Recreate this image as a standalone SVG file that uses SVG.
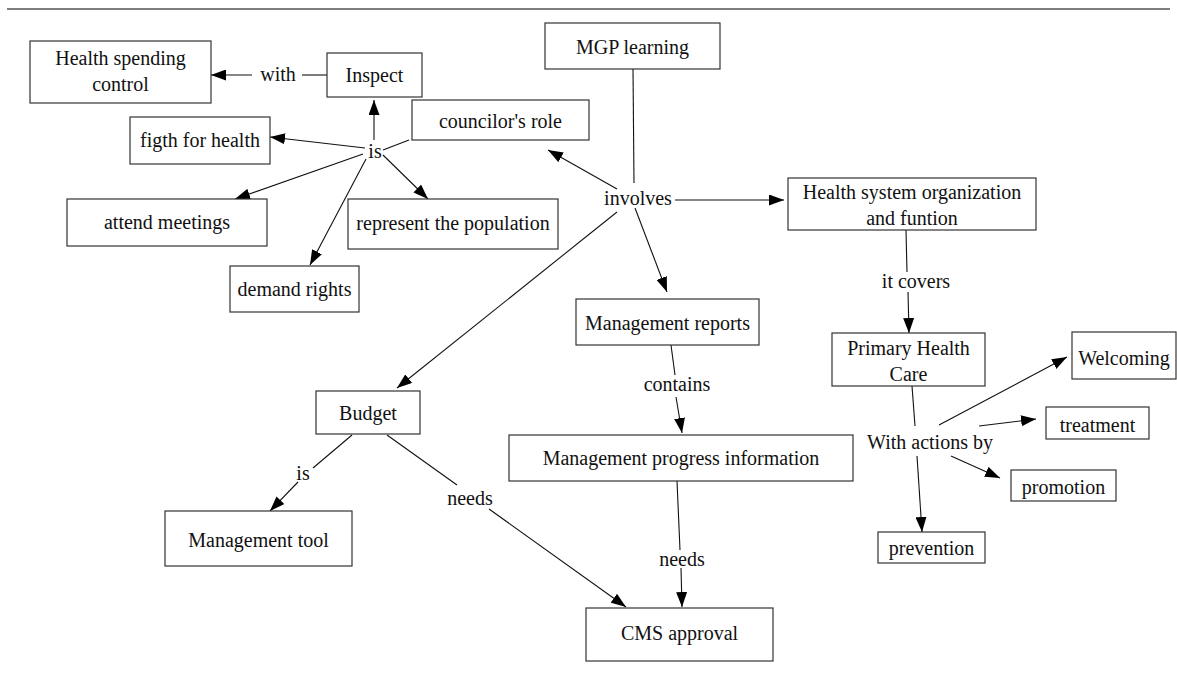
<svg xmlns="http://www.w3.org/2000/svg" width="1177" height="679" viewBox="0 0 1177 679">
<style>
.box{fill:#fff;stroke:#333;stroke-width:1.2}
text{font-family:"Liberation Serif","DejaVu Serif",serif;font-size:20px;fill:#111;text-anchor:middle}
.c line{stroke:#111;stroke-width:1.1}
.a{marker-end:url(#ah)}
</style>
<defs>
<marker id="ah" markerUnits="userSpaceOnUse" markerWidth="15" markerHeight="11" refX="15" refY="5.5" orient="auto">
<path d="M0,0 L15,5.5 L0,11 z" fill="#000"/>
</marker>
</defs>
<rect width="1177" height="679" fill="#fff"/>
<line x1="7" y1="9" x2="1170" y2="9" stroke="#555" stroke-width="1.5"/>
<g class="c" id="connectors">
<line x1="327" y1="75" x2="302" y2="75"/>
<line class="a" x1="252" y1="75" x2="211" y2="75"/>
<line x1="409" y1="140" x2="383" y2="150"/>
<line class="a" x1="374" y1="140" x2="374" y2="100"/>
<line class="a" x1="365" y1="148" x2="270" y2="137"/>
<line class="a" x1="363" y1="154" x2="235" y2="199"/>
<line class="a" x1="366" y1="159" x2="310" y2="265"/>
<line class="a" x1="383" y1="155" x2="428" y2="199"/>
<line x1="633" y1="69" x2="634" y2="183"/>
<line class="a" x1="617" y1="189" x2="548" y2="150"/>
<line class="a" x1="675" y1="200" x2="784" y2="200"/>
<line class="a" x1="617" y1="212" x2="397" y2="388"/>
<line class="a" x1="635" y1="208" x2="667" y2="292"/>
<line x1="906" y1="230" x2="907" y2="272"/>
<line class="a" x1="908" y1="292" x2="909" y2="333"/>
<line x1="912" y1="386" x2="915" y2="426"/>
<line class="a" x1="939" y1="425" x2="1067" y2="357"/>
<line class="a" x1="979" y1="426" x2="1036" y2="419"/>
<line class="a" x1="951" y1="456" x2="1000" y2="478"/>
<line class="a" x1="917" y1="456" x2="922" y2="532"/>
<line x1="352" y1="435" x2="313" y2="468"/>
<line class="a" x1="298" y1="482" x2="270" y2="511"/>
<line x1="387" y1="435" x2="457" y2="485"/>
<line class="a" x1="489" y1="509" x2="626" y2="607"/>
<line x1="671" y1="345" x2="675" y2="375"/>
<line class="a" x1="676" y1="397" x2="682" y2="433"/>
<line x1="677" y1="481" x2="680" y2="550"/>
<line class="a" x1="681" y1="568" x2="682" y2="607"/>
</g>
<g id="labels">
<text x="278" y="81">with</text>
<text x="375" y="158">is</text>
<text x="638" y="205">involves</text>
<text x="916" y="288">it covers</text>
<text x="930" y="449">With actions by</text>
<text x="303" y="480">is</text>
<text x="470" y="505">needs</text>
<text x="677" y="391">contains</text>
<text x="682" y="566">needs</text>
</g>
<g id="n-hsc"><rect class="box" x="30" y="41" width="181" height="62"/><text x="120.5" y="65">Health spending</text><text x="120.5" y="91">control</text></g>
<g id="n-inspect"><rect class="box" x="327" y="53" width="95" height="44"/><text x="374.5" y="82">Inspect</text></g>
<g id="n-figth"><rect class="box" x="130" y="117" width="140" height="47"/><text x="200" y="147">figth for health</text></g>
<g id="n-attend"><rect class="box" x="67" y="199" width="200" height="47"/><text x="167" y="229">attend meetings</text></g>
<g id="n-demand"><rect class="box" x="230" y="266" width="129" height="46"/><text x="294.5" y="296">demand rights</text></g>
<g id="n-represent"><rect class="box" x="348" y="199" width="210" height="50"/><text x="453" y="230">represent the population</text></g>
<g id="n-mgp"><rect class="box" x="545" y="23" width="175" height="46"/><text x="632.5" y="54">MGP learning</text></g>
<g id="n-councilor"><rect class="box" x="412" y="100" width="177" height="40"/><text x="500.5" y="128">councilor's role</text></g>
<g id="n-hs"><rect class="box" x="788" y="178" width="248" height="52"/><text x="912" y="199">Health system organization</text><text x="912" y="225">and funtion</text></g>
<g id="n-mr"><rect class="box" x="576" y="299" width="183" height="46"/><text x="667.5" y="330">Management reports</text></g>
<g id="n-phc"><rect class="box" x="832" y="333" width="153" height="53"/><text x="908.5" y="355">Primary Health</text><text x="908.5" y="381">Care</text></g>
<g id="n-welcoming"><rect class="box" x="1072" y="332" width="104" height="47"/><text x="1124" y="365">Welcoming</text></g>
<g id="n-treatment"><rect class="box" x="1046" y="407" width="103" height="32"/><text x="1097.5" y="432">treatment</text></g>
<g id="n-promotion"><rect class="box" x="1011" y="470" width="105" height="31"/><text x="1063.5" y="494">promotion</text></g>
<g id="n-prevention"><rect class="box" x="878" y="532" width="107" height="31"/><text x="931.5" y="555">prevention</text></g>
<g id="n-budget"><rect class="box" x="316" y="391" width="104" height="43"/><text x="368" y="420">Budget</text></g>
<g id="n-mtool"><rect class="box" x="165" y="511" width="187" height="55"/><text x="258.5" y="547">Management tool</text></g>
<g id="n-mpi"><rect class="box" x="509" y="435" width="344" height="46"/><text x="681" y="465">Management progress information</text></g>
<g id="n-cms"><rect class="box" x="586" y="608" width="187" height="53"/><text x="679.5" y="640">CMS approval</text></g>
</svg>
